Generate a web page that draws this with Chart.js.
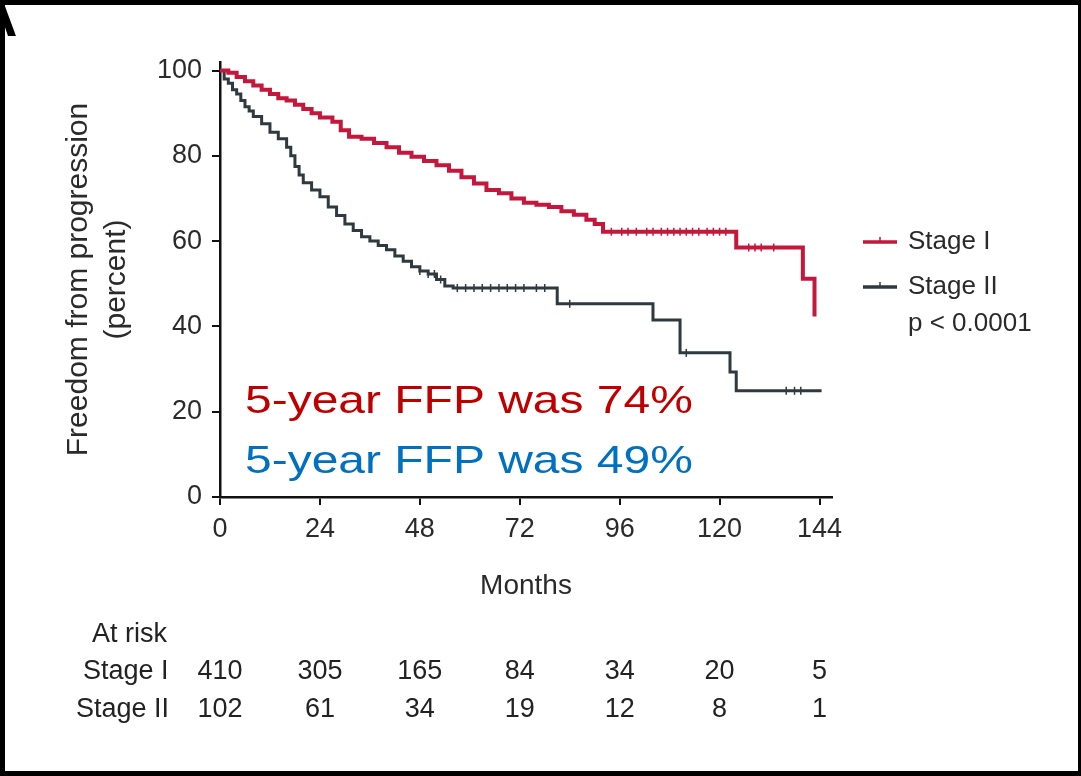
<!DOCTYPE html>
<html><head><meta charset="utf-8">
<script src="https://cdn.jsdelivr.net/npm/chart.js@4.4.1/dist/chart.umd.min.js"></script>
<style>
html,body{margin:0;padding:0;background:#fff;}
#wrap{position:relative;width:1081px;height:776px;overflow:hidden;background:#fff;}
#c{position:absolute;left:0;top:0;}
#frame{position:absolute;left:0;top:0;width:1081px;height:776px;box-sizing:border-box;border-style:solid;border-color:#000;border-width:5px 3px 5px 5px;pointer-events:none;}
</style></head><body>
<div id="wrap"><canvas id="c" width="1081" height="776"></canvas><div id="frame"></div></div>
<script>
// ---- data ----
const xTickValues = [0, 24, 48, 72, 96, 120, 144];
const yTickValues = [0, 20, 40, 60, 80, 100];

const stage1Months = [0,2,4,6,8,10,12,14,16,18,20,22,24,27,29,31,34,37,40,43,46,49,52,55,58,61,64,67,70,73,76,79,82,85,88,90,92,124,140,142.8];
const stage1Values = [100,99.5,98.5,97.5,96.5,95.5,94.5,93.5,93,92,91,90,89,88,86,84.5,84,83,82,80.7,79.8,78.8,77.8,76.5,75,73.5,72,71.2,70,69,68.5,68,67,66.2,65,64,62.2,58.5,51.2,42.3];

const stage2Months = [0,1,2,3,4,5,6,7,8,10,12,14,16,17,18,19,20,22,24,26,28,30,32,34,36,38,40,42,44,46,48,50,52,54,56,81,104,110.5,122.5,124,144.5];
const stage2Values = [100,98,97,95.5,94.5,93,91.5,90.5,89.2,87.5,85.5,84,82,80,77.5,75.5,73.7,72,70.4,68,66,64,62.5,61,60,59,58,56.5,55.3,54,53,52.3,51,49.5,49,45.3,41.5,33.8,29.3,24.9,24.9];

const stage1CensorMonths = [94,96.5,98,100,102.5,104,106,107.5,109,110.5,112,113.5,115,117,118.5,120,121.5,127,128.5,130,133];
const stage2CensorMonths = [48,50,51.5,53,57,59,61,63,65,67,69,71,73,76,78,84,112,136,138,139.5];

const atRiskMonths = [0, 24, 48, 72, 96, 120, 144];
const atRiskStage1 = [410, 305, 165, 84, 34, 20, 5];
const atRiskStage2 = [102, 61, 34, 19, 12, 8, 1];

const seriesNames = ['Stage I', 'Stage II'];
const pValueText = 'p < 0.0001';
const ffpStage1Text = '5-year FFP was 74%';
const ffpStage2Text = '5-year FFP was 49%';

// ---- styles ----
const RED = '#c5163c';
const DARK = '#2e3a3f';
const FONT = "'Liberation Sans', Arial, sans-serif";

function pts(xs, ys){ return xs.map((x,i)=>({x:x, y:ys[i]})); }
function stepAt(xs, ys, t){ let v = ys[0]; for (let i=0;i<xs.length;i++){ if (xs[i] <= t) v = ys[i]; } return v; }
function censorPts(cm, xs, ys){ return cm.map(t=>({x:t, y:stepAt(xs, ys, t)})); }

const overlayPlugin = {
  id: 'overlay',
  afterDraw(chart){
    const ctx = chart.ctx;
    const xs = chart.scales.x;
    ctx.save();
    // panel letter fragment (cut off at the left edge)
    ctx.fillStyle = '#000';
    ctx.font = "bold 56px " + FONT;
    ctx.textBaseline = 'alphabetic';
    ctx.textAlign = 'left';
    ctx.fillText('A', -23, 36);

    // FFP annotations
    ctx.font = "39px " + FONT;
    ctx.fillStyle = '#c00000';
    ctx.save(); ctx.translate(245, 413); ctx.scale(1.23, 1); ctx.fillText(ffpStage1Text, 0, 0); ctx.restore();
    ctx.fillStyle = '#0070c0';
    ctx.save(); ctx.translate(245, 473); ctx.scale(1.23, 1); ctx.fillText(ffpStage2Text, 0, 0); ctx.restore();

    // legend
    const legendItems = [{c:RED, y:242, t:seriesNames[0]}, {c:DARK, y:287, t:seriesNames[1]}];
    ctx.textBaseline = 'middle';
    ctx.font = "26px " + FONT;
    legendItems.forEach(it=>{
      ctx.strokeStyle = it.c; ctx.lineWidth = 3.5;
      ctx.beginPath(); ctx.moveTo(863, it.y); ctx.lineTo(897, it.y); ctx.stroke();
      ctx.lineWidth = 1.5;
      ctx.beginPath(); ctx.moveTo(880, it.y); ctx.lineTo(880, it.y - 5); ctx.stroke();
      ctx.fillStyle = '#2a2a2a';
      ctx.fillText(it.t, 908, it.y);
    });
    ctx.fillText(pValueText, 908, 324);

    // at-risk table
    ctx.font = "27px " + FONT;
    ctx.fillStyle = '#222';
    ctx.textAlign = 'left';
    ctx.fillText('At risk', 92, 635);
    ctx.fillText(seriesNames[0], 83, 672);
    ctx.fillText(seriesNames[1], 76, 710);
    ctx.textAlign = 'center';
    atRiskMonths.forEach((m,i)=>{
      const px = xs.getPixelForValue(m);
      ctx.fillText(String(atRiskStage1[i]), px, 672);
      ctx.fillText(String(atRiskStage2[i]), px, 710);
    });
    ctx.restore();
  }
};

new Chart(document.getElementById('c'), {
  type: 'line',
  data: {
    datasets: [
      { label: seriesNames[0], data: pts(stage1Months, stage1Values), borderColor: RED, borderWidth: 4, stepped: true, pointRadius: 0, fill: false },
      { label: seriesNames[1], data: pts(stage2Months, stage2Values), borderColor: DARK, borderWidth: 3, stepped: true, pointRadius: 0, fill: false },
      { label: 'c1', data: censorPts(stage1CensorMonths, stage1Months, stage1Values), showLine: false, pointStyle: 'line', rotation: 90, pointRadius: 4, borderColor: RED, backgroundColor: RED, borderWidth: 1.5 },
      { label: 'c2', data: censorPts(stage2CensorMonths, stage2Months, stage2Values), showLine: false, pointStyle: 'line', rotation: 90, pointRadius: 4, borderColor: DARK, backgroundColor: DARK, borderWidth: 1.5 }
    ]
  },
  options: {
    responsive: false,
    animation: false,
    events: [],
    layout: { padding: { left: 0, top: 62, right: 249, bottom: 169 } },
    plugins: { legend: { display: false }, tooltip: { enabled: false } },
    scales: {
      x: {
        type: 'linear', min: 0, max: 147,
        afterBuildTicks: s => { s.ticks = xTickValues.map(v=>({value:v})); },
        afterFit: s => { s.height = 110; },
        grid: { drawOnChartArea: false, drawTicks: true, tickLength: 8, color: '#111', lineWidth: 2 },
        border: { display: true, color: '#111', width: 2.5 },
        ticks: { color: '#2a2a2a', font: { family: FONT, size: 27 }, padding: 8, maxRotation: 0, autoSkip: false },
        title: { display: true, text: 'Months', color: '#2a2a2a', font: { family: FONT, size: 28, lineHeight: 1.2 }, padding: { top: 0, bottom: 4 } }
      },
      y: {
        type: 'linear', min: 0, max: 102,
        afterBuildTicks: s => { s.ticks = yTickValues.map(v=>({value:v})); },
        afterFit: s => { s.width = 220; },
        grid: { drawOnChartArea: false, drawTicks: true, tickLength: 8, color: '#111', lineWidth: 2 },
        border: { display: true, color: '#111', width: 2.5 },
        ticks: { color: '#2a2a2a', font: { family: FONT, size: 27 }, padding: 10 },
        title: { display: true, text: ['Freedom from progression', '(percent)'], color: '#2a2a2a', font: { family: FONT, size: 30, lineHeight: 1.27 }, padding: { top: 60, bottom: 0 } }
      }
    }
  },
  plugins: [overlayPlugin]
});
</script>
</body></html>
